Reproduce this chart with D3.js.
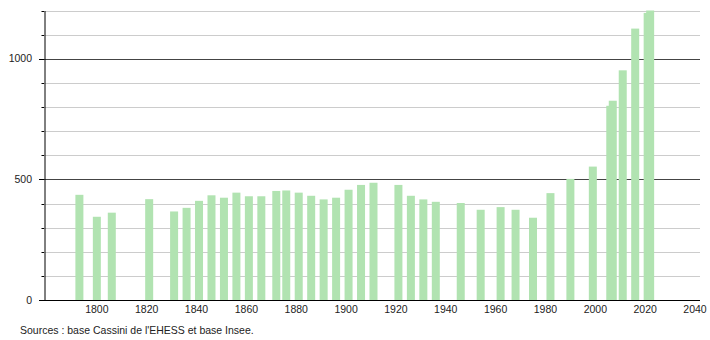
<!DOCTYPE html>
<html>
<head>
<meta charset="utf-8">
<script src="https://cdn.jsdelivr.net/npm/d3@7"></script>
<style>
  body { margin: 0; background: #fff; }
  text { font-family: "Liberation Sans", Arial, sans-serif; fill: #222; }
</style>
</head>
<body>
<svg id="chart" width="710" height="340"></svg>
<script>
// census years and population
var years = [1793, 1800, 1806, 1821, 1831, 1836, 1841, 1846, 1851, 1856, 1861, 1866,
  1872, 1876, 1881, 1886, 1891, 1896, 1901, 1906, 1911, 1921, 1926, 1931, 1936,
  1946, 1954, 1962, 1968, 1975, 1982, 1990, 1999, 2006, 2007, 2011, 2016, 2021, 2022];
var population = [436, 345, 362, 418, 367, 382, 411, 434, 424, 445, 430, 430,
  452, 454, 445, 432, 417, 424, 457, 477, 486, 477, 432, 417, 407,
  402, 374, 385, 374, 341, 443, 502, 553, 805, 826, 952, 1125, 1190, 1215];
var xTicks = [1800, 1820, 1840, 1860, 1880, 1900, 1920, 1940, 1960, 1980, 2000, 2020, 2040];
var yLabels = [0, 500, 1000];
var source = "Sources : base Cassini de l'EHESS et base Insee.";

var svg = d3.select("#chart");

var x = d3.scaleLinear().domain([1778.8, 2042]).range([44, 700]);
var y = d3.scaleLinear().domain([0, 1200]).range([300, 10.5]);
var barW = 8;

// grid lines every 100
var grid = d3.range(100, 1201, 100);
svg.append("g")
  .selectAll("line")
  .data(grid)
  .join("line")
    .attr("x1", 44)
    .attr("x2", 700)
    .attr("y1", d => Math.round(y(d)) + 0.5)
    .attr("y2", d => Math.round(y(d)) + 0.5)
    .attr("stroke", d => d % 500 == 0 ? "#444" : "#cccccc")
    .attr("stroke-width", 1);

svg.append("clipPath").attr("id", "plot")
  .append("rect").attr("x", 44).attr("y", y(1200)).attr("width", 656).attr("height", 300 - y(1200));

// bars
svg.append("g")
  .attr("clip-path", "url(#plot)")
  .selectAll("rect")
  .data(years)
  .join("rect")
    .attr("x", (d) => x(d) - barW / 2)
    .attr("y", (d, i) => y(population[i]))
    .attr("width", barW)
    .attr("height", (d, i) => 300 - y(population[i]))
    .attr("fill", "#b1e3b1");

// left axis with small ticks
svg.append("g")
  .attr("transform", "translate(44.5,0)")
  .call(d3.axisLeft(y).tickValues(grid.concat([0])).tickSize(0).tickFormat(""))
  .call(g => g.select(".domain").attr("stroke", "#000"))
  .call(g => g.selectAll(".tick line").remove());

svg.append("g")
  .selectAll("line")
  .data(d3.range(0, 1201, 100))
  .join("line")
    .attr("x1", d => d % 500 == 0 ? 39 : 41.5)
    .attr("x2", 44)
    .attr("y1", d => Math.round(y(d)) + 0.5)
    .attr("y2", d => Math.round(y(d)) + 0.5)
    .attr("stroke", "#000");

svg.append("g")
  .selectAll("text")
  .data(yLabels)
  .join("text")
    .attr("x", 32)
    .attr("y", d => y(d))
    .attr("dy", "0.35em")
    .attr("text-anchor", "end")
    .attr("font-size", 10.5)
    .text(d => d);

// bottom axis
svg.append("line")
  .attr("x1", 44).attr("x2", 700)
  .attr("y1", 300.5).attr("y2", 300.5)
  .attr("stroke", "#000");

svg.append("g")
  .selectAll("text")
  .data(xTicks)
  .join("text")
    .attr("x", d => x(d))
    .attr("y", 309.5)
    .attr("dy", "0.35em")
    .attr("text-anchor", "middle")
    .attr("font-size", 10.5)
    .text(d => d);

svg.append("text")
  .attr("x", 20)
  .attr("y", 330)
  .attr("dy", "0.35em")
  .attr("font-size", 10.5)
  .text(source);
</script>
</body>
</html>
